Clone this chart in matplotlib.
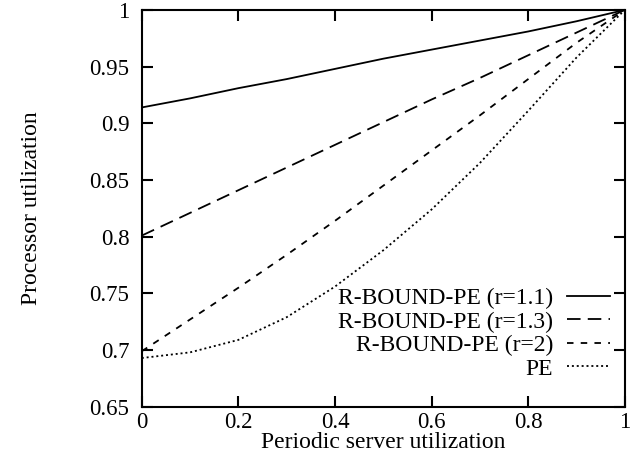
import numpy as np
from matplotlib import pyplot as plt

plt.rcParams['font.family'] = ['Liberation Serif', 'DejaVu Serif']

x = [0.0, 0.1, 0.2, 0.3, 0.4, 0.5, 0.6, 0.7, 0.8, 0.9, 1.0]
r11 = [0.914, 0.922, 0.931, 0.939, 0.948, 0.957, 0.965, 0.973, 0.981, 0.990, 1.0]
r13 = [0.801, 0.821, 0.841, 0.861, 0.881, 0.901, 0.921, 0.940, 0.960, 0.980, 1.0]
r2 = [0.699, 0.727, 0.755, 0.784, 0.814, 0.845, 0.876, 0.907, 0.939, 0.971, 1.0]
pe = [0.693, 0.698, 0.709, 0.729, 0.756, 0.788, 0.824, 0.865, 0.911, 0.958, 1.0]

labels = ['R-BOUND-PE (r=1.1)', 'R-BOUND-PE (r=1.3)', 'R-BOUND-PE (r=2)', 'PE']

fig = plt.figure(figsize=(6.33, 4.73), dpi=100)
ax = fig.add_axes([0.224, 0.140, 0.763, 0.839])

ax.plot(x, r11, color='black', lw=1.3, ls='-', label=labels[0])
ax.plot(x, r13, color='black', lw=1.3, ls=(0, (7.5, 4)), label=labels[1])
ax.plot(x, r2, color='black', lw=1.3, ls=(0, (3.6, 4)), label=labels[2])
ax.plot(x, pe, color='black', lw=1.3, ls=(0, (1.1, 1.6)), label=labels[3])

ax.set_xlim(0, 1)
ax.set_ylim(0.65, 1)
ax.set_xticks([0, 0.2, 0.4, 0.6, 0.8, 1])
ax.set_xticklabels(['0', '0.2', '0.4', '0.6', '0.8', '1'])
ax.set_yticks([0.65, 0.7, 0.75, 0.8, 0.85, 0.9, 0.95, 1])
ax.set_yticklabels(['0.65', '0.7', '0.75', '0.8', '0.85', '0.9', '0.95', '1'])
ax.tick_params(direction='in', length=8, width=1.5, labelsize=16.5, top=True, right=True)
ax.tick_params(axis='x', pad=4)
ax.tick_params(axis='y', pad=9)
for s in ax.spines.values():
    s.set_linewidth(1.5)

ax.set_xlabel('Periodic server utilization', fontsize=17, labelpad=-1)
ax.set_ylabel('Processor utilization', fontsize=17, labelpad=34)

ax.legend(loc='lower right', frameon=False, markerfirst=False, fontsize=17,
          handlelength=1.8, handletextpad=0.6, labelspacing=0.08,
          bbox_to_anchor=(1.013, 0.015))

fig.savefig('out.png', dpi=100)
